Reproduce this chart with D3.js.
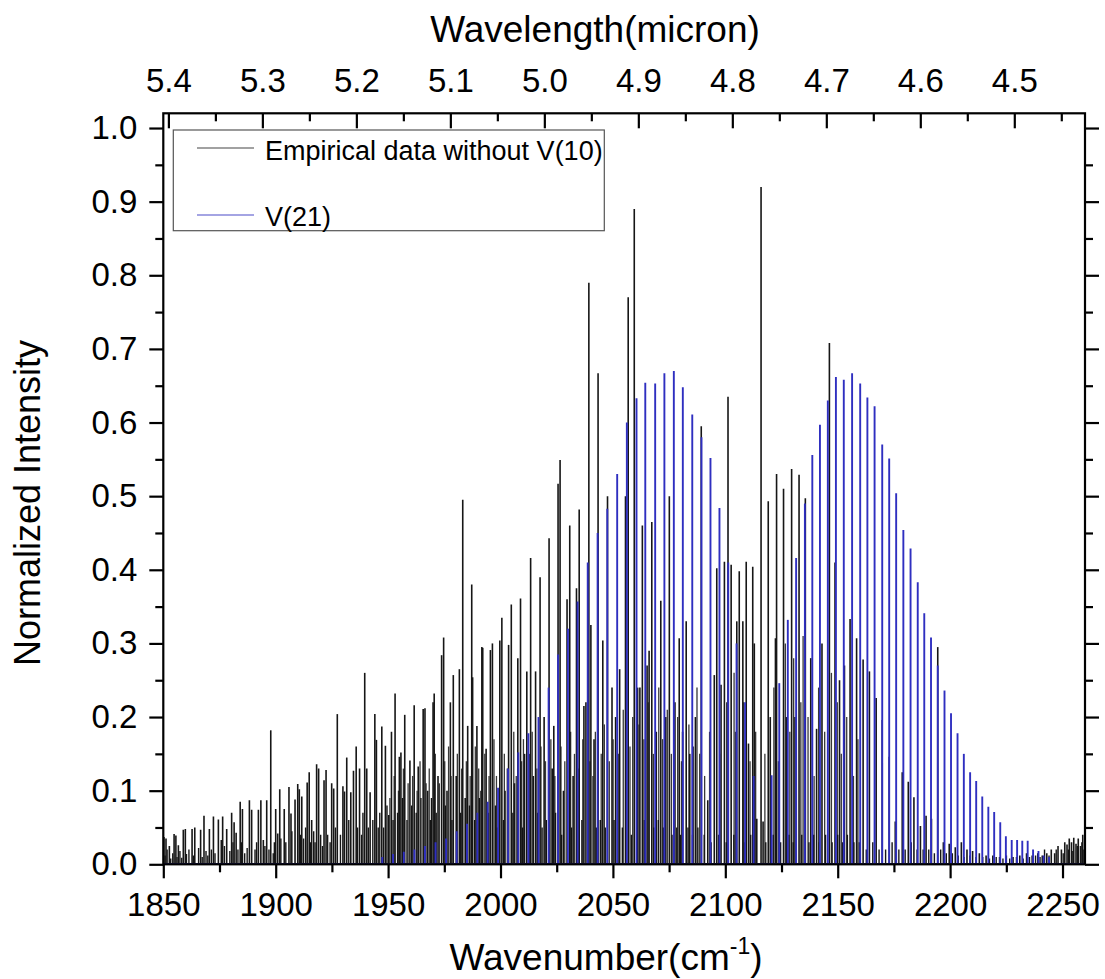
<!DOCTYPE html>
<html>
<head>
<meta charset="utf-8">
<script src="https://cdn.jsdelivr.net/npm/d3@7"></script>
<style>
  html, body { margin: 0; padding: 0; background: #fff; }
  svg { display: block; }
  text { font-family: "Liberation Sans", Arial, sans-serif; fill: #000; }
</style>
</head>
<body>
<svg id="chart" width="1105" height="979"></svg>
<script>
// ---------------- data ----------------
// Empirical data without V(10): strong lines [wavenumber, normalized intensity]
const empiricalWavenumber = [
1850.3,1851.2,1852.7,1854.8,1855.6,1856.7,1858.9,1859.8,1862.8,1864.0,1866.6,1868.1,1870.5,1872.3,1874.5,1875.8,1876.4,1878.2,1880.4,1881.5,
1882.4,1884.2,1885.2,1888.3,1889.3,1892.3,1893.4,1894.5,1896.0,1897.8,1900.0,1900.9,1901.8,1903.8,1905.9,1906.8,1908.6,1909.8,1910.5,1911.6,
1914.0,1914.9,1916.0,1918.2,1919.1,1921.5,1922.4,1924.9,1925.8,1927.4,1929.9,1930.6,1931.6,1933.4,1934.6,1935.8,1937.3,1939.6,1940.5,1942.0,
1944.1,1944.8,1947.2,1948.8,1950.3,1951.5,1953.1,1955.0,1955.7,1957.4,1959.7,1961.6,1963.4,1965.6,1966.4,1967.6,1970.0,1970.5,1972.2,1973.8,
1974.7,1976.2,1977.7,1979.0,1980.3,1981.7,1983.2,1984.3,1985.4,1987.2,1987.6,1989.5,1991.7,1992.1,1993.6,1995.5,1996.4,1997.8,1999.7,2000.6,
2002.0,2003.6,2004.8,2006.2,2007.7,2008.9,2010.7,2011.7,2013.4,2014.6,2015.6,2017.6,2019.4,2021.6,2023.0,2023.7,2025.6,2026.5,2028.0,2029.6,
2030.8,2032.3,2033.8,2035.0,2037.1,2038.0,2039.3,2040.2,2041.6,2043.4,2045.5,2047.6,2049.6,2051.2,2053.0,2055.6,2056.8,2059.5,2061.0,2062.0,
2063.1,2065.2,2066.1,2067.3,2069.3,2071.3,2073.5,2075.1,2077.6,2079.5,2081.0,2082.6,2084.2,2086.7,2089.3,2092.2,2095.1,2096.2,2098.1,2099.6,
2101.2,2102.6,2105.1,2106.2,2107.8,2109.3,2110.3,2112.2,2112.9,2114.0,2115.9,2116.8,2119.1,2120.0,2122.3,2122.8,2125.9,2127.2,2129.5,2131.0,
2132.8,2135.6,2138.0,2140.6,2143.0,2146.3,2148.8,2150.8,2153.0,2155.5,2158.4,2161.3,2164.1,2167.1,2169.8,2172.9,2175.6,2178.7,2181.4,2183.9,
2186.8,2189.3,2191.7,2194.5,2197.0,2199.6,2202.3,2205.0,2207.5,2210.0,2213.0,2216.0,2219.0,2222.0,2225.0,2228.0,2231.0,2234.0,2236.5,2239.0,
2241.0,2243.0,2245.0,2246.5,2248.0,2249.5,2251.0,2252.0,2253.0,2254.0,2255.0,2256.0,2257.0,2258.0,2259.0,2260.0
];
const empiricalIntensity = [
0.037,0.035,0.025,0.041,0.039,0.026,0.047,0.048,0.048,0.050,0.047,0.066,0.048,0.065,0.061,0.033,0.065,0.048,0.070,0.057,
0.043,0.085,0.075,0.087,0.074,0.074,0.087,0.033,0.087,0.182,0.075,0.042,0.102,0.075,0.105,0.069,0.088,0.109,0.102,0.092,
0.111,0.125,0.060,0.136,0.130,0.114,0.128,0.110,0.103,0.204,0.106,0.099,0.145,0.098,0.127,0.160,0.130,0.260,0.130,0.098,
0.204,0.169,0.187,0.161,0.067,0.180,0.232,0.146,0.152,0.203,0.141,0.216,0.133,0.211,0.212,0.100,0.220,0.232,0.120,0.284,
0.308,0.100,0.220,0.257,0.120,0.265,0.495,0.090,0.188,0.380,0.254,0.188,0.295,0.294,0.157,0.291,0.300,0.080,0.304,0.335,
0.100,0.298,0.353,0.110,0.280,0.361,0.150,0.262,0.416,0.120,0.262,0.390,0.200,0.443,0.130,0.188,0.517,0.549,0.100,0.360,
0.460,0.120,0.375,0.482,0.215,0.220,0.790,0.325,0.170,0.667,0.304,0.500,0.240,0.200,0.265,0.500,0.770,0.890,0.240,0.240,
0.460,0.270,0.290,0.465,0.180,0.358,0.200,0.500,0.220,0.307,0.180,0.330,0.150,0.200,0.595,0.087,0.257,0.402,0.244,0.411,
0.635,0.407,0.330,0.398,0.330,0.411,0.164,0.404,0.300,0.062,0.920,0.058,0.493,0.200,0.307,0.530,0.510,0.200,0.537,0.200,
0.529,0.497,0.280,0.184,0.300,0.708,0.410,0.250,0.270,0.333,0.307,0.278,0.262,0.226,0.196,0.146,0.058,0.125,0.112,0.091,
0.052,0.066,0.062,0.295,0.030,0.028,0.023,0.030,0.020,0.018,0.015,0.012,0.012,0.010,0.012,0.010,0.012,0.015,0.012,0.015,
0.012,0.015,0.020,0.015,0.025,0.020,0.030,0.027,0.035,0.030,0.036,0.028,0.035,0.025,0.040,0.045
];
// Empirical data: medium lines filling the lower part of the band
const mediumWavenumber = [
1950.8,1952.7,1954.6,1956.8,1958.9,1960.9,1962.9,1964.2,1966.9,1968.3,1971.0,1972.8,1975.2,1976.9,1978.0,1980.8,1982.7,1984.8,1986.5,1988.8,
1990.3,1991.2,1993.0,1994.9,1997.1,1998.2,2001.7,2003.0,2005.9,2007.0,2009.4,2010.2,2012.9,2014.1,2016.2,2018.0,2020.0,2022.4,2024.2,2026.9,
2028.6,2031.2,2032.9,2034.6,2036.6,2039.8,2041.1,2042.2,2044.8,2046.2,2048.4,2050.1,2052.4,2054.6,2057.6,2058.8,2061.6,2063.8,2065.7,2068.0,
2070.4,2072.1,2074.2,2076.0,2078.8,2080.5,2083.8,2085.8,2087.4,2088.6,2090.8,2093.0,2097.5,2100.6,2103.9,2104.5,2108.2,2111.0,2113.5,2117.6,
2121.6,2123.6,2126.7,2128.7,2130.4,2133.6,2134.6,2136.8,2139.5,2141.5,2144.2,2147.2,2149.8,2151.6,2154.0,2157.0,2159.0
];
const mediumIntensity = [
0.090,0.120,0.100,0.130,0.110,0.120,0.100,0.140,0.110,0.130,0.150,0.110,0.140,0.160,0.120,0.150,0.130,0.140,0.120,0.160,
0.130,0.100,0.150,0.120,0.170,0.120,0.150,0.130,0.180,0.120,0.140,0.170,0.150,0.180,0.130,0.160,0.140,0.170,0.120,0.160,
0.140,0.180,0.150,0.130,0.170,0.140,0.120,0.180,0.150,0.190,0.140,0.170,0.150,0.210,0.160,0.200,0.190,0.170,0.220,0.150,
0.240,0.170,0.210,0.150,0.200,0.140,0.190,0.160,0.240,0.150,0.120,0.180,0.150,0.220,0.260,0.180,0.220,0.140,0.180,0.150,
0.240,0.140,0.300,0.180,0.280,0.220,0.310,0.200,0.120,0.240,0.180,0.260,0.220,0.150,0.200,0.120,0.170
];
// Empirical data: weak lines that form the dense floor of the spectrum
const weakWavenumber = [
1850.8,1851.7,1853.3,1854.2,1856.1,1857.4,1858.2,1860.3,1861.4,1863.4,1865.7,1867.3,1869.0,1869.8,1871.4,1873.0,1877.2,1879.6,1881.0,1883.2,
1884.8,1886.2,1887.3,1890.8,1891.5,1895.2,1897.0,1898.9,1899.4,1902.3,1904.5,1907.2,1911.0,1912.4,1913.3,1915.5,1916.9,1917.5,1920.0,1920.8,
1923.1,1924.2,1926.6,1928.8,1932.5,1936.4,1938.2,1938.8,1941.2,1943.2,1945.6,1946.3,1948.0,1949.5,1952.2,1954.2,1956.4,1958.4,1960.5,1962.5,
1964.6,1968.8,1969.3,1971.4,1975.5,1978.4,1982.3,1986.2,1988.5,1990.6,1994.6,1998.6,2001.3,2005.5,2009.8,2012.5,2016.5,2018.5,2020.4,2024.5,
2027.2,2031.6,2036.2,2042.6,2044.4,2046.6,2050.5,2054.2,2058.2,2064.0,2068.2,2070.2,2072.4,2076.3,2078.4,2080.1,2083.4,2085.4,2087.8,2090.6,
2093.7,2097.0,2100.4,2103.8,2108.5,2111.3,2118.0,2121.3,2124.6,2128.3,2130.2,2134.0,2137.2,2139.3,2141.8,2144.6,2147.5,2150.0,2152.2,2154.3,
2157.2,2159.6,2162.7,2165.6,2168.4,2171.3,2174.2,2177.2,2180.0,2182.7,2185.3,2188.0,2190.5,2193.0,2195.8,2198.3,2201.0,2203.6,2206.2,2208.8,
2211.5,2214.5,2217.5,2220.5,2223.5,2226.5,2229.5,2232.5,2235.3,2238.0,2240.0,2242.0,2244.0,2247.2,2250.3,2252.6,2254.6,2256.6,2258.6,2259.5
];
const weakIntensity = [
0.012,0.020,0.008,0.015,0.010,0.018,0.009,0.014,0.020,0.012,0.022,0.010,0.018,0.012,0.020,0.015,0.025,0.018,0.030,0.020,
0.030,0.015,0.022,0.020,0.030,0.025,0.020,0.015,0.030,0.035,0.030,0.045,0.040,0.035,0.050,0.030,0.045,0.030,0.040,0.025,
0.040,0.030,0.050,0.040,0.060,0.050,0.040,0.070,0.050,0.060,0.050,0.070,0.050,0.080,0.060,0.070,0.090,0.060,0.080,0.070,
0.090,0.060,0.090,0.070,0.080,0.060,0.070,0.080,0.060,0.090,0.070,0.050,0.060,0.070,0.050,0.060,0.070,0.050,0.060,0.070,
0.040,0.050,0.060,0.050,0.060,0.050,0.060,0.050,0.040,0.060,0.050,0.060,0.050,0.040,0.050,0.040,0.050,0.040,0.050,0.040,
0.030,0.040,0.030,0.040,0.030,0.040,0.030,0.040,0.030,0.040,0.030,0.040,0.030,0.040,0.030,0.040,0.030,0.040,0.030,0.040,
0.030,0.030,0.020,0.030,0.020,0.020,0.030,0.020,0.020,0.030,0.020,0.020,0.020,0.015,0.020,0.015,0.015,0.012,0.010,0.012,
0.010,0.010,0.008,0.010,0.008,0.008,0.010,0.008,0.010,0.012,0.010,0.020,0.012,0.020,0.015,0.020,0.018,0.025,0.030,0.020
];
// V(21) band lines
const v21Wavenumber = [
1947.4,1952.2,1957.0,1961.7,1966.4,1971.1,1975.8,1980.5,1985.1,1989.7,1994.3,1998.9,2003.4,2007.9,2012.4,2016.9,2021.4,2025.6,2030.0,2034.3,
2038.8,2043.2,2047.5,2051.9,2056.2,2060.5,2064.4,2068.8,2072.9,2077.1,2081.1,2085.3,2089.4,2093.4,2097.4,2101.3,2105.0,2108.8,2112.6,
2120.6,2124.0,2127.8,2131.5,2135.4,2138.7,2142.1,2145.6,2149.2,2152.7,2156.4,2160.0,2163.2,2166.4,2169.8,2172.9,2176.0,2179.2,2182.4,2185.6,
2188.5,2191.5,2194.5,2197.5,2200.4,2203.3,2206.1,2208.9,2211.6,2214.3,2217.0,2219.6,2222.3,2224.8,2227.4,2229.8,2232.1,2234.5,2236.9,2239.3,
2241.6,2244.0
];
const v21Intensity = [
0.010,0.014,0.017,0.020,0.025,0.030,0.035,0.045,0.055,0.070,0.085,0.104,0.130,0.152,0.178,0.200,0.240,0.285,0.320,0.357,
0.410,0.450,0.483,0.530,0.600,0.633,0.654,0.653,0.667,0.670,0.648,0.611,0.580,0.552,0.484,0.410,0.300,0.220,0.120,
0.121,0.246,0.332,0.416,0.490,0.556,0.597,0.630,0.662,0.658,0.667,0.653,0.634,0.622,0.570,0.551,0.504,0.454,0.429,0.383,
0.341,0.308,0.270,0.236,0.205,0.178,0.150,0.125,0.113,0.092,0.078,0.071,0.057,0.038,0.033,0.033,0.032,0.032,0.020,0.018,
0.012,0.010
];
// axes / ticks / labels
const xDomain = [1850, 2260];
const yDomain = [0, 1.02];
const xMajorTicks = [1850, 1900, 1950, 2000, 2050, 2100, 2150, 2200, 2250];
const xMinorTicks = [1875, 1925, 1975, 2025, 2075, 2125, 2175, 2225];
const yMajorTicks = [0.0, 0.1, 0.2, 0.3, 0.4, 0.5, 0.6, 0.7, 0.8, 0.9, 1.0];
const yMinorTicks = [0.05, 0.15, 0.25, 0.35, 0.45, 0.55, 0.65, 0.75, 0.85, 0.95];
const topMajorTicks = [5.4, 5.3, 5.2, 5.1, 5.0, 4.9, 4.8, 4.7, 4.6, 4.5];
const topMinorTicks = [5.35, 5.25, 5.15, 5.05, 4.95, 4.85, 4.75, 4.65, 4.55, 4.45];
const seriesNames = ["Empirical data without V(10)", "V(21)"];
const seriesColors = ["#161616", "#2f2fc0"];
const xTitle = "Wavenumber(cm";
const topTitle = "Wavelength(micron)";
const yTitle = "Normalized Intensity";

// ---------------- layout ----------------
const svg = d3.select("#chart");
const L = 163.3, R = 1085, T = 113.3, B = 864.3;

const x = d3.scaleLinear().domain(xDomain).range([L, R]);
const y = d3.scaleLinear().domain(yDomain).range([B, T]);
// top axis: wavelength (micron) linked linearly to the wavenumber end points
const xTop = d3.scaleLinear().domain([1e4 / xDomain[0], 1e4 / xDomain[1]]).range([L, R]);

svg.append("defs").append("clipPath").attr("id", "clip")
  .append("rect").attr("x", L).attr("y", T).attr("width", R - L).attr("height", B - T);

const plot = svg.append("g").attr("clip-path", "url(#clip)");

function drawSeries(wn, val, color, width, opacity) {
  const g = plot.append("g").attr("opacity", opacity);
  const pts = wn.map((w, i) => ({ w, v: val[i] }));
  g.append("path")
    .attr("d", d3.line().x(d => x(d)).y(() => y(0))(xDomain))
    .attr("stroke", color).attr("stroke-width", 2).attr("fill", "none");
  g.selectAll("line").data(pts).join("line")
    .attr("x1", d => x(d.w)).attr("x2", d => x(d.w))
    .attr("y1", y(0)).attr("y2", d => y(d.v))
    .attr("stroke", color).attr("stroke-width", width);
}
drawSeries(weakWavenumber, weakIntensity, seriesColors[0], 1.4, 1);
drawSeries(mediumWavenumber, mediumIntensity, seriesColors[0], 1.3, 0.85);
drawSeries(empiricalWavenumber, empiricalIntensity, seriesColors[0], 1.6, 1);
drawSeries(v21Wavenumber, v21Intensity, seriesColors[1], 1.9, 1);

// ---------------- axes ----------------
const fsTick = 33;
function styleAxis(g) {
  g.select(".domain").remove();
  g.selectAll(".tick line").attr("stroke", "#000").attr("stroke-width", 2.2);
  g.selectAll(".tick text").style("font-size", fsTick + "px").style("font-family", '"Liberation Sans", Arial, sans-serif').attr("fill", "#000");
}
// bottom
svg.append("g").attr("transform", `translate(0,${B})`)
  .call(d3.axisBottom(x).tickValues(xMinorTicks).tickSize(8).tickFormat("")).call(styleAxis);
svg.append("g").attr("transform", `translate(0,${B})`)
  .call(d3.axisBottom(x).tickValues(xMajorTicks).tickSize(14).tickPadding(14).tickFormat(d3.format("d"))).call(styleAxis);
// left
svg.append("g").attr("transform", `translate(${L},0)`)
  .call(d3.axisLeft(y).tickValues(yMinorTicks).tickSize(8).tickFormat("")).call(styleAxis);
svg.append("g").attr("transform", `translate(${L},0)`)
  .call(d3.axisLeft(y).tickValues(yMajorTicks).tickSize(14).tickPadding(12).tickFormat(d3.format(".1f"))).call(styleAxis);
// right (no labels, outward)
svg.append("g").attr("transform", `translate(${R},0)`)
  .call(d3.axisRight(y).tickValues(yMinorTicks).tickSize(8).tickFormat("")).call(styleAxis);
svg.append("g").attr("transform", `translate(${R},0)`)
  .call(d3.axisRight(y).tickValues(yMajorTicks).tickSize(14).tickFormat("")).call(styleAxis);
// top (ticks inward)
svg.append("g").attr("transform", `translate(0,${T})`)
  .call(d3.axisTop(xTop).tickValues(topMinorTicks).tickSizeInner(-8).tickSizeOuter(0).tickFormat("")).call(styleAxis);
svg.append("g").attr("transform", `translate(0,${T})`)
  .call(d3.axisTop(xTop).tickValues(topMajorTicks).tickSizeInner(-15).tickSizeOuter(0).tickPadding(21).tickFormat(d3.format(".1f"))).call(styleAxis);

// frame
svg.append("rect").attr("x", L).attr("y", T).attr("width", R - L).attr("height", B - T)
  .attr("fill", "none").attr("stroke", "#000").attr("stroke-width", 2.2);

// ---------------- titles ----------------
const xt = svg.append("text").attr("x", 606).attr("y", 970).attr("text-anchor", "middle")
  .style("font-size", "37px");
xt.append("tspan").text(xTitle);
xt.append("tspan").text("-1").style("font-size", "23px").attr("dy", -16);
xt.append("tspan").text(")").attr("dy", 16);

svg.append("text").attr("x", 595).attr("y", 42).attr("text-anchor", "middle")
  .style("font-size", "37px").text(topTitle);

svg.append("text").attr("transform", "translate(40,503) rotate(-90)").attr("text-anchor", "middle")
  .style("font-size", "36px").text(yTitle);

// ---------------- legend ----------------
const lg = svg.append("g");
lg.append("rect").attr("x", 173.3).attr("y", 130).attr("width", 431).attr("height", 100.7)
  .attr("fill", "#fff").attr("stroke", "#555").attr("stroke-width", 1.2);
const legendRows = [148, 215];
const legendBase = [160, 226];
seriesNames.forEach((name, i) => {
  lg.append("line").attr("x1", 197).attr("x2", 254).attr("y1", legendRows[i]).attr("y2", legendRows[i])
    .attr("stroke", i === 0 ? "#444" : "#4a4ac8").attr("stroke-width", 1.2);
  lg.append("text").attr("x", 265).attr("y", legendBase[i]).style("font-size", "27px").text(name);
});
</script>
</body>
</html>
